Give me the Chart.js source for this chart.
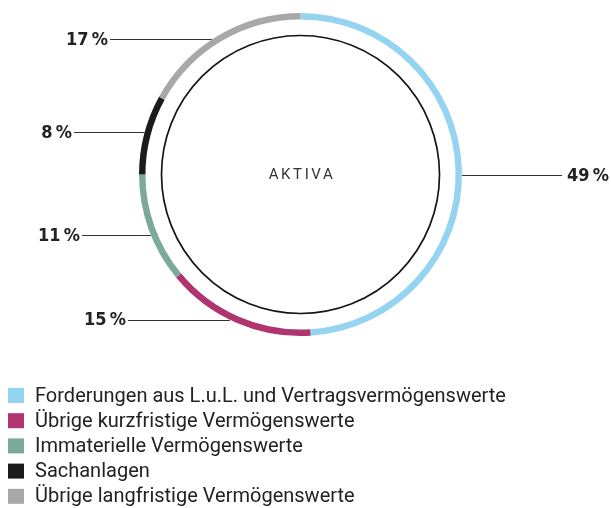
<!DOCTYPE html>
<html>
<head>
<meta charset="utf-8">
<script src="https://cdn.jsdelivr.net/npm/chart.js@4.4.0/dist/chart.umd.min.js"></script>
<style>
  html, body { margin: 0; padding: 0; background: #fff; }
  #wrap { width: 611px; height: 508px; position: relative; }
</style>
</head>
<body>
<div id="wrap"><canvas id="aktiva"></canvas></div>
<script>
// data
const categories = [
  'Forderungen aus L.u.L. und Vertragsvermögenswerte',
  'Übrige kurzfristige Vermögenswerte',
  'Immaterielle Vermögenswerte',
  'Sachanlagen',
  'Übrige langfristige Vermögenswerte'
];
const shares = [49, 15, 11, 8, 17];
const colors = ['#95d4f1', '#b0346f', '#7caa9a', '#1b1b1b', '#a8a8a8'];
const centerTitle = 'AKTIVA';

// label placement (layout only): text edge x and small vertical nudge
const labelEdgeX = [567, 126, 80, 72, 108];
const labelNudgeY = [6, -3, 6, -2, 4];

const ringExtras = {
  id: 'ringExtras',
  afterDatasetsDraw(chart) {
    const ctx = chart.ctx;
    const meta = chart.getDatasetMeta(0);
    const first = meta.data[0];
    const cx = first.x, cy = first.y, R = first.outerRadius;

    // inner thin circle
    ctx.save();
    ctx.beginPath();
    ctx.arc(cx, cy, R - 22.5, 0, Math.PI * 2);
    ctx.strokeStyle = '#151515';
    ctx.lineWidth = 1.7;
    ctx.stroke();

    // centre text
    ctx.fillStyle = '#333';
    ctx.font = '15px Roboto, sans-serif';
    ctx.textAlign = 'center';
    ctx.textBaseline = 'middle';
    ctx.letterSpacing = '2.6px';
    ctx.fillText(centerTitle, cx + 1.5, cy + 1);
    ctx.letterSpacing = '0px';

    // leader lines and percentage labels
    ctx.font = 'bold 18px "DejaVu Sans Condensed", "DejaVu Sans", sans-serif';
    ctx.textBaseline = 'middle';
    meta.data.forEach((arc, i) => {
      const a = (arc.startAngle + arc.endAngle) / 2;
      const right = Math.cos(a) >= 0;
      const ly = cy + Math.sin(a) * R + labelNudgeY[i];
      const dy = ly - cy;
      const dx = Math.sqrt(Math.max(0, R * R - dy * dy));
      const ringX = right ? cx + dx : cx - dx;
      const txt = shares[i] + '\u2009%';
      ctx.beginPath();
      ctx.strokeStyle = '#333';
      ctx.lineWidth = 1;
      if (right) {
        ctx.moveTo(ringX, Math.round(ly) + 0.5);
        ctx.lineTo(labelEdgeX[i] - 5, Math.round(ly) + 0.5);
        ctx.stroke();
        ctx.textAlign = 'left';
        ctx.fillStyle = '#222';
        ctx.fillText(txt, labelEdgeX[i], ly + 1);
      } else {
        ctx.moveTo(labelEdgeX[i] + 2, Math.round(ly) + 0.5);
        ctx.lineTo(ringX, Math.round(ly) + 0.5);
        ctx.stroke();
        ctx.textAlign = 'right';
        ctx.fillStyle = '#222';
        ctx.fillText(txt, labelEdgeX[i], ly + 1);
      }
    });
    ctx.restore();
  },
  afterDraw(chart) {
    // legend as a simple column at the bottom left
    const ctx = chart.ctx;
    ctx.save();
    ctx.font = '20px Roboto, sans-serif';
    ctx.textAlign = 'left';
    ctx.textBaseline = 'middle';
    categories.forEach((name, i) => {
      const y = 395.5 + i * 25.2;
      ctx.fillStyle = colors[i];
      ctx.fillRect(8, y - 7.5, 16, 15);
      ctx.fillStyle = '#222';
      ctx.fillText(name, 35, y + 1);
    });
    ctx.restore();
  }
};

const chart = new Chart(document.getElementById('aktiva'), {
  type: 'doughnut',
  data: {
    labels: categories,
    datasets: [{
      data: shares,
      backgroundColor: colors,
      borderWidth: 0,
      hoverOffset: 0
    }]
  },
  options: {
    responsive: true,
    maintainAspectRatio: false,
    animation: false,
    cutout: '96%',
    layout: { padding: { left: 139, right: 149, top: 13, bottom: 172 } },
    plugins: {
      legend: { display: false },
      tooltip: { enabled: false }
    }
  },
  plugins: [ringExtras]
});
</script>
</body>
</html>
